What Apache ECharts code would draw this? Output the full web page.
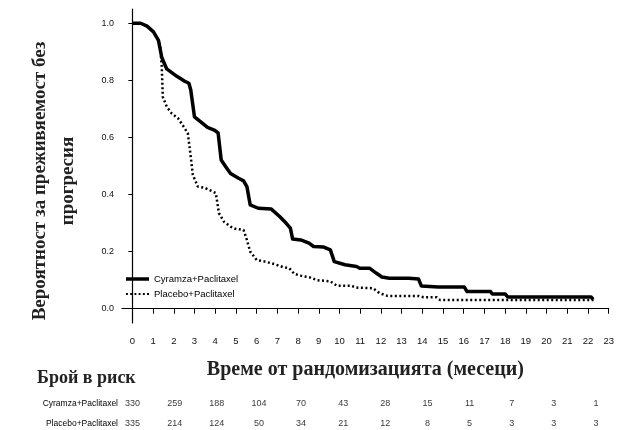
<!DOCTYPE html>
<html style="height: 100%">
<head>
    <meta charset="utf-8">
    <title>Cyramza PFS</title>
    <script src="https://cdn.jsdelivr.net/npm/echarts@6/dist/echarts.min.js"></script>
    <style>
        html, body { margin: 0; padding: 0; background: #fff; }
        #container { width: 617px; height: 430px; }
    </style>
</head>
<body>
<div id="container"></div>
<script>
    // Kaplan-Meier curves: [months, probability]
    var cyramzaCurve = [
        [0, 1.0], [0.4, 1.0], [0.71, 0.99], [1.02, 0.97], [1.26, 0.94], [1.42, 0.88],
        [1.66, 0.84], [2.13, 0.815], [2.53, 0.797], [2.73, 0.79], [2.82, 0.766], [3.0, 0.672],
        [3.39, 0.649], [3.63, 0.635], [3.95, 0.626], [4.14, 0.616], [4.29, 0.521], [4.5, 0.498],
        [4.74, 0.474], [5.13, 0.457], [5.37, 0.448], [5.53, 0.428], [5.69, 0.364], [6.08, 0.352],
        [6.71, 0.349], [7.11, 0.323], [7.42, 0.30], [7.63, 0.282], [7.74, 0.244], [8.13, 0.241],
        [8.53, 0.23], [8.75, 0.218], [9.24, 0.216], [9.56, 0.206], [9.75, 0.165], [10.27, 0.154],
        [10.82, 0.148], [10.98, 0.142], [11.45, 0.142], [11.77, 0.125], [12.05, 0.111], [12.4, 0.107],
        [13.35, 0.107], [13.82, 0.104], [13.95, 0.08], [14.77, 0.076], [16.03, 0.076], [16.16, 0.06],
        [17.3, 0.06], [17.37, 0.052], [18.0, 0.052], [18.12, 0.041], [22.15, 0.041], [22.25, 0.033]
    ];
    var placeboCurve = [
        [0, 1.0], [0.4, 1.0], [0.71, 0.99], [1.02, 0.97], [1.26, 0.94], [1.35, 0.917],
        [1.42, 0.848], [1.47, 0.742], [1.66, 0.708], [1.9, 0.684], [2.21, 0.667], [2.53, 0.632],
        [2.68, 0.614], [2.8, 0.544], [2.92, 0.469], [3.16, 0.428], [3.47, 0.424], [3.79, 0.414],
        [4.03, 0.405], [4.18, 0.335], [4.42, 0.305], [4.74, 0.288], [4.98, 0.28], [5.37, 0.276],
        [5.53, 0.241], [5.69, 0.2], [6.0, 0.171], [6.4, 0.165], [6.87, 0.156], [7.27, 0.146],
        [7.58, 0.142], [7.82, 0.122], [8.13, 0.116], [8.6, 0.109], [8.92, 0.1], [9.56, 0.096],
        [9.87, 0.081], [10.58, 0.08], [10.82, 0.074], [11.61, 0.072], [11.93, 0.055], [12.32, 0.045],
        [13.82, 0.045], [14.06, 0.04], [14.69, 0.04], [14.85, 0.031], [22.27, 0.031]
    ];
    var seriesNames = ['Cyramza+Paclitaxel', 'Placebo+Paclitaxel'];
    var xTicks = [0, 1, 2, 3, 4, 5, 6, 7, 8, 9, 10, 11, 12, 13, 14, 15, 16, 17, 18, 19, 20, 21, 22, 23];
    var yTicks = [0, 0.2, 0.4, 0.6, 0.8, 1.0];
    // number at risk table
    var riskTimes = [0, 2, 4, 6, 8, 10, 12, 14, 16, 18, 20, 22];
    var cyramzaRisk = [330, 259, 188, 104, 70, 43, 28, 15, 11, 7, 3, 1];
    var placeboRisk = [335, 214, 124, 50, 34, 21, 12, 8, 5, 3, 3, 3];

    var sans = "'Liberation Sans', Arial, sans-serif";
    var serif = "'Liberation Serif', 'DejaVu Serif', serif";

    function riskData(row, values) {
        var out = [];
        for (var i = 0; i < riskTimes.length; i++) {
            out.push([riskTimes[i], row, values[i]]);
        }
        return out;
    }

    var myChart = echarts.init(document.getElementById('container'), null, {renderer: 'canvas'});
    var option = {
        animation: false,
        backgroundColor: '#fff',
        grid: [
            {left: 122, right: 0, top: 9, bottom: 107},
            {left: 122, right: 0, top: 384, bottom: 6}
        ],
        legend: {
            orient: 'vertical',
            left: 121,
            top: 269,
            itemWidth: 23,
            itemHeight: 3.5,
            itemGap: 5,
            data: [
                {name: seriesNames[0], icon: 'rect', itemStyle: {color: '#000'}},
                {name: seriesNames[1], icon: 'path://M0,0h2v2h-2zM4.4,0h2v2h-2zM8.8,0h2v2h-2zM13.2,0h2v2h-2zM17.6,0h2v2h-2zM22,0h2v2h-2z', itemStyle: {color: '#000'}}
            ],
            textStyle: {fontSize: 9.5, fontFamily: sans, color: '#000'}
        },
        xAxis: [
            {
                type: 'value',
                gridIndex: 0,
                min: -0.5,
                max: 23,
                name: 'Време от рандомизацията (месеци)',
                nameLocation: 'middle',
                nameGap: 37,
                nameTextStyle: {fontFamily: serif, fontWeight: 'bold', fontSize: 20, color: '#222'},
                axisLine: {lineStyle: {color: '#000', width: 1.2}},
                axisTick: {show: true, length: 5, lineStyle: {color: '#000'}, customValues: xTicks},
                axisLabel: {fontFamily: sans, fontSize: 9.5, color: '#111', margin: 13, customValues: xTicks},
                splitLine: {show: false}
            },
            {
                type: 'value',
                gridIndex: 1,
                min: -0.5,
                max: 23,
                show: false
            }
        ],
        yAxis: [
            {
                type: 'value',
                gridIndex: 0,
                min: -0.05,
                max: 1.05,
                axisLine: {show: true, lineStyle: {color: '#000', width: 1.2}},
                axisTick: {show: true, length: 4, lineStyle: {color: '#000'}, customValues: yTicks},
                axisLabel: {
                    fontFamily: sans, fontSize: 9, color: '#111', margin: 8,
                    customValues: yTicks,
                    formatter: function (v) { return v.toFixed(1); }
                },
                splitLine: {show: false}
            },
            {
                // rows of the at-risk table: 0 = Cyramza, 1 = Placebo
                type: 'value',
                gridIndex: 1,
                inverse: true,
                min: -1,
                max: 1,
                axisLine: {show: false},
                axisTick: {show: false},
                splitLine: {show: false},
                axisLabel: {
                    fontFamily: sans, fontSize: 8.5, color: '#000', margin: 4,
                    customValues: [0, 1],
                    formatter: function (v) { return seriesNames[Math.round(v)]; }
                }
            }
        ],
        graphic: [
            {
                type: 'text',
                x: 54,
                y: 181,
                rotation: Math.PI / 2,
                style: {
                    text: 'Вероятност за преживяемост без\nпрогресия',
                    font: 'bold 19px ' + serif,
                    fill: '#222',
                    align: 'center',
                    verticalAlign: 'middle',
                    lineHeight: 28
                }
            },
            {
                type: 'text',
                left: 37,
                top: 369,
                style: {
                    text: 'Брой в риск',
                    font: 'bold 18px ' + serif,
                    fill: '#222'
                }
            }
        ],
        series: [
            {
                name: seriesNames[0],
                type: 'line',
                xAxisIndex: 0,
                yAxisIndex: 0,
                data: cyramzaCurve,
                symbol: 'none',
                lineStyle: {color: '#000', width: 3.5, join: 'round'},
                itemStyle: {color: '#000'},
                z: 2
            },
            {
                name: seriesNames[1],
                type: 'line',
                xAxisIndex: 0,
                yAxisIndex: 0,
                data: placeboCurve,
                symbol: 'none',
                lineStyle: {color: '#000', width: 2.5, type: [2, 2.5]},
                itemStyle: {color: '#000'},
                z: 3
            },
            {
                type: 'scatter',
                xAxisIndex: 1,
                yAxisIndex: 1,
                data: riskData(0, cyramzaRisk).concat(riskData(1, placeboRisk)),
                symbolSize: 1,
                itemStyle: {color: 'rgba(0,0,0,0)'},
                label: {
                    show: true,
                    position: 'inside',
                    fontFamily: sans,
                    fontSize: 9,
                    color: '#000',
                    formatter: function (p) { return p.value[2]; }
                },
                silent: true
            }
        ]
    };
    myChart.setOption(option);
</script>
</body>
</html>
